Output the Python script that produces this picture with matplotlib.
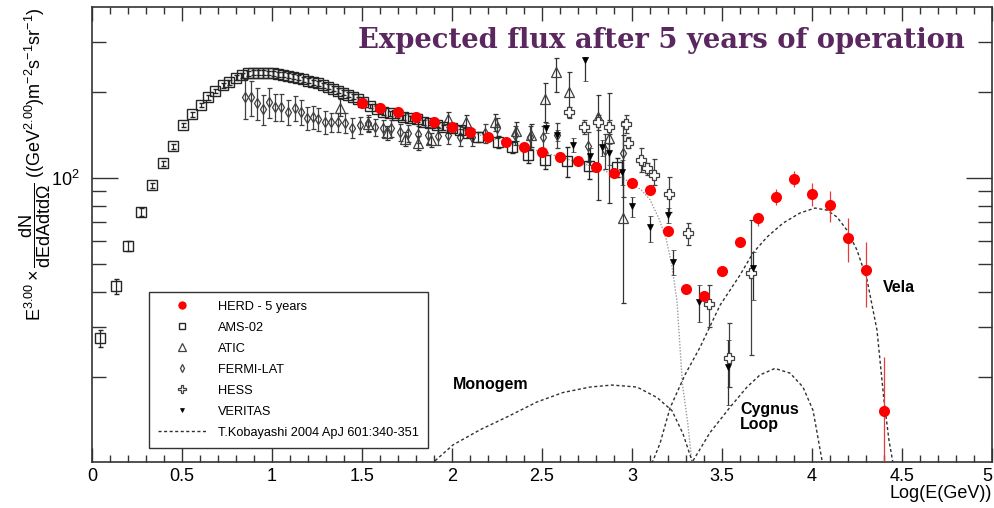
import matplotlib
matplotlib.use("Agg")
import matplotlib.pyplot as plt
from matplotlib.ticker import MultipleLocator, LogLocator, NullFormatter, FuncFormatter

plt.rcParams['font.family'] = ['Liberation Sans', 'DejaVu Sans']
plt.rcParams['mathtext.fontset'] = 'custom'
plt.rcParams['mathtext.rm'] = 'Liberation Sans'
plt.rcParams['mathtext.it'] = 'Liberation Sans:italic'
plt.rcParams['mathtext.bf'] = 'Liberation Sans:bold'

# HERD projection, 5 years
herd_loge = [1.5, 1.6, 1.7, 1.8, 1.9, 2.0, 2.1, 2.2, 2.3, 2.4,
             2.5, 2.6, 2.7, 2.8, 2.9, 3.0, 3.1, 3.2, 3.3, 3.4,
             3.5, 3.6, 3.7, 3.8, 3.9, 4.0, 4.1, 4.2, 4.3, 4.4]
herd_flux = [183.3, 176.0, 170.4, 163.7, 157.2, 151.0, 145.0, 139.3, 133.8, 128.5,
             123.4, 118.5, 114.7, 109.3, 104.1, 96.0, 90.8, 65.2, 40.8, 38.5,
             47.2, 59.6, 72.4, 85.8, 99.2, 87.9, 80.4, 61.6, 47.6, 15.2]
herd_lo = [2.0, 2.0, 2.0, 2.0, 2.0, 2.0, 2.0, 2.0, 2.0, 2.0,
           2.0, 2.0, 2.0, 2.0, 2.0, 2.0, 2.0, 1.5, 1.0, 1.0,
           1.5, 2.3, 4.5, 5.4, 6.2, 8.1, 10.3, 10.9, 12.3, 10.0]
herd_hi = [2.0, 2.0, 2.0, 2.0, 2.0, 2.0, 2.0, 2.0, 2.0, 2.0,
           2.0, 2.0, 2.0, 2.0, 2.0, 2.0, 2.0, 1.5, 1.0, 1.0,
           1.5, 2.5, 3.0, 5.7, 6.6, 8.1, 9.7, 10.8, 12.0, 8.4]

# AMS-02
ams_loge = [0.044, 0.133, 0.200, 0.272, 0.333, 0.394, 0.450, 0.506, 0.556, 0.606,
            0.644, 0.683, 0.728, 0.761, 0.800, 0.833, 0.867, 0.894, 0.922, 0.950,
            0.978, 1.006, 1.033, 1.061, 1.089, 1.117, 1.144, 1.172, 1.200, 1.228,
            1.256, 1.283, 1.311, 1.339, 1.367, 1.394, 1.422, 1.450, 1.478, 1.506,
            1.544, 1.583, 1.617, 1.656, 1.694, 1.728, 1.767, 1.806, 1.839, 1.878,
            1.917, 1.950, 2.000, 2.044, 2.089, 2.144, 2.256, 2.333, 2.422, 2.517,
            2.639, 2.761, 2.917]
ams_flux = [27.5, 41.8, 57.7, 76.0, 94.5, 112.9, 129.5, 153.5, 167.7, 180.4,
            192.3, 202.0, 211.9, 217.0, 224.5, 229.8, 233.0, 234.2, 234.2, 234.2,
            233.6, 233.0, 231.7, 230.4, 228.6, 226.6, 224.5, 222.0, 219.5, 217.0,
            214.9, 211.9, 209.1, 205.7, 202.5, 199.2, 196.1, 192.9, 188.9, 185.2,
            179.0, 175.0, 170.4, 169.0, 166.3, 163.7, 162.4, 161.1, 157.2, 156.0,
            153.5, 151.0, 149.8, 147.4, 143.8, 139.3, 133.8, 128.5, 120.4, 115.7,
            114.7, 110.2, 109.3]
ams_err = [0.07, 0.06, 0.04, 0.03, 0.02, 0.02, 0.02, 0.02, 0.02, 0.02,
           0.02, 0.02, 0.02, 0.02, 0.02, 0.02, 0.02, 0.02, 0.02, 0.02,
           0.02, 0.02, 0.02, 0.02, 0.02, 0.02, 0.02, 0.02, 0.02, 0.02,
           0.02, 0.02, 0.02, 0.02, 0.02, 0.02, 0.02, 0.02, 0.02, 0.02,
           0.02, 0.02, 0.02, 0.02, 0.02, 0.02, 0.02, 0.02, 0.02, 0.02,
           0.02, 0.02, 0.02, 0.03, 0.03, 0.04, 0.05, 0.05, 0.06, 0.07,
           0.12, 0.10, 0.08]

# ATIC
atic_loge = [1.378, 1.533, 1.639, 1.739, 1.811, 1.883, 1.978, 2.078, 2.239, 2.356,
             2.439, 2.517, 2.578, 2.650, 2.811, 2.872, 2.950]
atic_flux = [176.0, 154.7, 143.8, 137.0, 132.7, 136.0, 161.1, 157.2, 157.2, 146.2,
             141.5, 189.3, 235.4, 200.4, 163.7, 138.1, 72.4]
atic_lo = [165.0, 146.2, 136.0, 129.5, 125.4, 128.5, 151.0, 147.4, 146.2, 134.9,
           128.5, 157.2, 200.4, 171.8, 83.7, 81.7, 36.4]
atic_hi = [189.3, 163.7, 152.2, 145.0, 140.4, 143.8, 170.4, 166.4, 167.7, 157.2,
           154.7, 215.4, 263.7, 235.4, 195.6, 198.8, 141.5]

# FERMI-LAT
fermi_loge = [0.850, 0.883, 0.917, 0.950, 0.983, 1.017, 1.050, 1.089, 1.128, 1.161,
              1.194, 1.228, 1.256, 1.294, 1.328, 1.367, 1.406, 1.444, 1.489, 1.533,
              1.572, 1.617, 1.661, 1.711, 1.756, 1.811, 1.867, 1.922, 1.978, 2.044,
              2.111, 2.183, 2.250, 2.350, 2.433, 2.506, 2.583, 2.756, 2.850, 2.950]
fermi_flux = [192.3, 192.3, 183.3, 174.7, 184.8, 177.5, 177.5, 170.4, 176.0, 170.4,
              162.4, 163.7, 161.1, 157.2, 157.2, 157.2, 156.0, 149.8, 153.5, 156.0,
              151.0, 149.8, 149.8, 145.0, 143.8, 142.7, 141.5, 140.4, 141.5, 139.3,
              139.3, 143.8, 149.8, 141.5, 139.3, 139.3, 141.5, 129.5, 125.4, 122.4]
fermi_err = [0.16, 0.14, 0.13, 0.12, 0.12, 0.11, 0.11, 0.10, 0.10, 0.10,
             0.09, 0.09, 0.09, 0.09, 0.08, 0.08, 0.08, 0.08, 0.07, 0.07,
             0.07, 0.07, 0.07, 0.07, 0.07, 0.07, 0.07, 0.07, 0.07, 0.07,
             0.07, 0.08, 0.08, 0.08, 0.09, 0.09, 0.10, 0.12, 0.14, 0.30]

# HESS
hess_loge = [2.650, 2.733, 2.811, 2.872, 2.967, 2.978, 3.050, 3.083, 3.122, 3.206,
             3.311, 3.428, 3.539, 3.661]
hess_flux = [170.4, 151.0, 157.2, 151.0, 154.7, 132.7, 115.7, 108.4, 102.5, 87.9,
             64.1, 36.1, 23.4, 46.4]
hess_lo = [162.4, 142.7, 147.4, 142.7, 143.8, 127.4, 105.0, 102.5, 94.5, 76.0,
           58.2, 30.0, 18.5, 23.9]
hess_hi = [177.5, 159.8, 166.4, 159.8, 166.4, 139.3, 127.4, 112.9, 116.6, 100.8,
           69.5, 42.1, 31.0, 71.2]

# VERITAS
veritas_loge = [2.522, 2.583, 2.672, 2.739, 2.767, 2.833, 2.872, 2.944, 3.000, 3.100,
                3.200, 3.228, 3.372, 3.533, 3.672]
veritas_flux = [149.8, 141.5, 130.6, 259.6, 119.4, 128.5, 122.4, 105.0, 79.8, 67.3,
                74.2, 50.7, 36.7, 21.7, 48.3]
veritas_lo = [143.8, 134.9, 123.4, 219.0, 111.1, 119.4, 111.1, 94.5, 73.0, 59.6,
              69.5, 45.7, 31.2, 16.0, 37.3]
veritas_hi = [156.0, 147.4, 138.1, 265.9, 127.4, 136.0, 131.6, 115.7, 85.8, 73.6,
              78.5, 55.9, 42.1, 27.0, 55.0]

# Kobayashi et al. 2004 model curves
bg_loge = [1.5, 1.8, 2.0, 2.2, 2.4, 2.6, 2.8, 2.95, 3.05, 3.10, 3.15, 3.19, 3.22,
           3.25, 3.28, 3.31, 3.333]
bg_flux = [183.0, 164.0, 151.0, 139.0, 128.5, 118.5, 109.0, 100.0, 91.0, 84.0, 72.0,
           61.0, 50.0, 37.0, 19.0, 13.8, 10.0]
mono_loge = [1.906, 2.006, 2.156, 2.322, 2.472, 2.617, 2.767, 2.889, 3.028, 3.139,
             3.222, 3.283, 3.333]
mono_flux = [10.2, 11.6, 13.1, 14.7, 16.4, 17.7, 18.5, 18.8, 18.5, 17.0, 15.3, 12.7, 10.2]
cyg_loge = [3.339, 3.433, 3.544, 3.639, 3.711, 3.794, 3.878, 3.950, 4.006, 4.033, 4.056]
cyg_flux = [10.2, 12.8, 15.7, 18.5, 20.4, 21.5, 20.7, 18.5, 15.3, 12.3, 10.2]
vela_loge = [3.111, 3.156, 3.211, 3.294, 3.378, 3.489, 3.600, 3.672, 3.750, 3.839,
             3.933, 4.017, 4.083, 4.139, 4.194, 4.250, 4.306, 4.361, 4.400, 4.428, 4.450]
vela_flux = [10.0, 11.75, 15.6, 20.4, 25.5, 35.8, 45.7, 54.6, 62.1, 69.5,
             75.4, 78.5, 77.2, 73.0, 65.7, 55.9, 43.9, 29.3, 16.6, 12.0, 10.0]


def asym_err(y, lo, hi):
    return [[a - b for a, b in zip(y, lo)], [b - a for a, b in zip(y, hi)]]


def rel_err(y, e):
    return [[a * f for a, f in zip(y, e)], [a * f for a, f in zip(y, e)]]


fig = plt.figure(figsize=(9.94, 5.08), dpi=100)
ax = fig.add_axes([92 / 994, 46 / 508, 900 / 994, 455 / 508])
ax.set_yscale('log')

dark = '#262626'
ebkw = dict(elinewidth=0.9, capsize=1.8, capthick=0.9, ls='none')

# model curves
model_kw = dict(color='#303030', lw=1.0, ls=(0, (2.2, 1.8)), zorder=1)
ax.plot(bg_loge, bg_flux, color='#9a9a9a', lw=1.0, ls=(0, (1, 1.2)), zorder=1)
ax.plot(mono_loge, mono_flux, **model_kw)
ax.plot(cyg_loge, cyg_flux, **model_kw)
kob, = ax.plot(vela_loge, vela_flux, **model_kw)

fermi = ax.errorbar(fermi_loge, fermi_flux, yerr=rel_err(fermi_flux, fermi_err),
                    marker='d', ms=5.5, mfc='none', mec='#404040', mew=0.9,
                    ecolor='#404040', zorder=2, **ebkw)
atic = ax.errorbar(atic_loge, atic_flux, yerr=asym_err(atic_flux, atic_lo, atic_hi),
                   marker='^', ms=7, mfc='none', mec='#404040', mew=0.9,
                   ecolor='#333333', zorder=2, **ebkw)
ams = ax.errorbar(ams_loge, ams_flux, yerr=rel_err(ams_flux, ams_err),
                  marker='s', ms=6.5, mfc='none', mec=dark, mew=1.0,
                  ecolor=dark, zorder=3, **ebkw)
hess = ax.errorbar(hess_loge, hess_flux, yerr=asym_err(hess_flux, hess_lo, hess_hi),
                   marker='P', ms=7, mfc='white', mec='#404040', mew=0.9,
                   ecolor='#404040', zorder=3, **ebkw)
veritas = ax.errorbar(veritas_loge, veritas_flux,
                      yerr=asym_err(veritas_flux, veritas_lo, veritas_hi),
                      marker='v', ms=3.8, mfc='black', mec='black', mew=0.5,
                      ecolor='#303030', zorder=3, **ebkw)
herd = ax.errorbar(herd_loge, herd_flux, yerr=[herd_lo, herd_hi],
                   marker='o', ms=8, mfc='#ff0000', mec='#ff0000', mew=0,
                   ecolor='#e83a3a', zorder=4, **ebkw)

ax.set_xlim(0, 5)
ax.set_ylim(10.1, 398)

ax.xaxis.set_major_locator(MultipleLocator(0.5))
ax.xaxis.set_minor_locator(MultipleLocator(0.1))
ax.xaxis.set_major_formatter(FuncFormatter(lambda v, p: f'{v:g}'))
ax.yaxis.set_major_locator(LogLocator(base=10))
ax.yaxis.set_minor_locator(LogLocator(base=10, subs=[2, 3, 4, 5, 6, 7, 8, 9]))
ax.yaxis.set_minor_formatter(NullFormatter())

ax.tick_params(which='both', direction='in', top=True, right=True, width=1.0,
               color='#333333', labelsize=13)
ax.xaxis.set_tick_params(which='major', length=10, pad=4)
ax.xaxis.set_tick_params(which='minor', length=5)
ax.yaxis.set_tick_params(which='major', length=19, pad=9)
ax.yaxis.set_tick_params(which='minor', length=10)
for sp in ax.spines.values():
    sp.set_linewidth(1.2)
    sp.set_color('#333333')

ax.set_xlabel('Log(E(GeV))', fontsize=13, loc='right', labelpad=0)
ax.set_ylabel(r'$\mathregular{E^{3.00}\times\dfrac{dN}{dEdAdtd\Omega}}$'
              r' ((GeV$^{2.00}$)m$^{-2}$s$^{-1}$sr$^{-1}$)',
              fontsize=13, loc='top')
ax.yaxis.set_label_coords(-0.043, 1.0)

ax.text(2.006, 18.2, 'Monogem', fontsize=11.5, fontweight='bold', va='baseline')
ax.text(3.6, 16.4, 'Cygnus\nLoop', fontsize=11.5, fontweight='bold', va='top',
        linespacing=1.0)
ax.text(4.394, 39.8, 'Vela', fontsize=11.5, fontweight='bold', va='baseline')

ax.legend([herd[0], ams[0], atic[0], fermi[0], hess[0], veritas[0], kob],
          ['HERD - 5 years', 'AMS-02', 'ATIC', 'FERMI-LAT', 'HESS', 'VERITAS',
           'T.Kobayashi 2004 ApJ 601:340-351'],
          loc='upper left', bbox_to_anchor=(0.0633, 0.3736), borderaxespad=0,
          fontsize=9.2, markerscale=0.75, handlelength=3.8, handletextpad=0.9,
          labelspacing=0.7, borderpad=0.7, fancybox=False, edgecolor='#333333',
          framealpha=1)
ax.get_legend().get_frame().set_linewidth(1.0)

fig.text(965 / 994, 1 - 40 / 508, 'Expected flux after 5 years of operation',
         ha='right', va='center', fontsize=19.7, fontweight='bold',
         family='DejaVu Serif', color='#5b275f')

# keep the "5" label at the right end inside the figure
fig.canvas.draw()
for tick in ax.xaxis.get_major_ticks():
    if abs(tick.get_loc() - 5) < 1e-9:
        tick.label1.set_horizontalalignment('right')

fig.savefig('out.png', dpi=100)
